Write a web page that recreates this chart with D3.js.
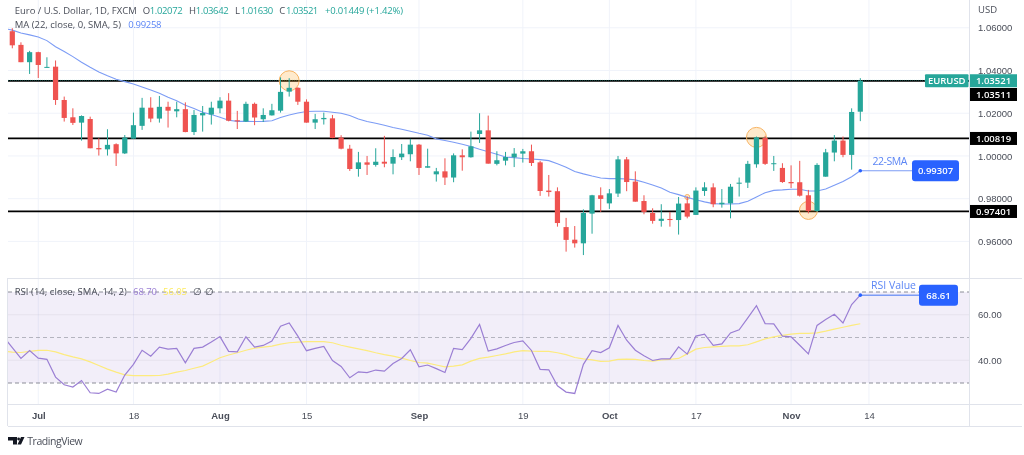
<!DOCTYPE html>
<html>
<head>
<meta charset="utf-8">
<script src="https://cdn.jsdelivr.net/npm/d3@7"></script>
<style>
  html, body { margin: 0; padding: 0; background: #fff; overflow: hidden; }
  svg { display: block; font-family: "Open Sans", "Liberation Sans", sans-serif; filter: blur(0.3px); }
  .axis path, .axis line { display: none; }
  .axis text { fill: #4a4e59; font-size: 9.5px; }
</style>
</head>
<body>
<div id="vis"></div>
<script>
// Daily EUR/USD candles (28 Jun to 11 Nov)
const opens = [1.0584,1.0520,1.0439,1.0486,1.0414,1.0418,1.0262,1.0181,1.0156,1.0173,
  1.0037,1.0031,1.0055,1.0012,1.0081,1.0141,1.0226,1.0175,1.0230,1.0209,
  1.0219,1.0112,1.0190,1.0194,1.0223,1.0259,1.0167,1.0161,1.0244,1.0172,
  1.0190,1.0212,1.0301,1.0319,1.0254,1.0156,1.0172,1.0176,1.0086,1.0034,
  0.9939,0.9970,0.9958,0.9973,0.9964,0.9994,1.0008,1.0053,0.9945,0.9914,
  0.9928,0.9899,1.0003,0.9994,1.0103,1.0120,0.9963,0.9978,0.9994,1.0011,
  1.0022,0.9970,0.9838,0.9835,0.9667,0.9608,0.9591,0.9730,0.9816,0.9778,
  0.9824,0.9984,0.9880,0.9789,0.9733,0.9696,0.9705,0.9700,0.9778,0.9724,
  0.9836,0.9853,0.9774,0.9778,0.9870,0.9875,0.9961,1.0084,0.9963,0.9944,
  0.9878,0.9877,0.9816,0.9742,0.9903,1.0016,1.0072,1.0005,1.02072];
const highs = [1.0598,1.0532,1.0492,1.0488,1.0462,1.0447,1.0278,1.0223,1.0190,1.0184,
  1.0083,1.0125,1.0059,1.0098,1.0203,1.0272,1.0275,1.0281,1.0254,1.0254,
  1.0251,1.0215,1.0234,1.0254,1.0275,1.0294,1.0211,1.0254,1.0250,1.0223,
  1.0244,1.0368,1.0364,1.0322,1.0265,1.0197,1.0203,1.0192,1.0097,1.0052,
  1.0019,1.0000,1.0036,1.0094,1.0031,1.0056,1.0080,1.0056,1.0034,0.9944,
  0.9989,1.0012,1.0031,1.0114,1.0200,1.0189,1.0022,1.0019,1.0037,1.0033,
  1.0053,0.9977,0.9911,0.9853,0.9710,0.9672,0.9750,0.9818,0.9853,0.9845,
  1.0000,0.9995,0.9928,0.9816,0.9755,0.9774,0.9738,0.9808,0.9810,0.9853,
  0.9877,0.9872,0.9845,0.9869,0.9899,0.9977,1.0091,1.0094,1.0000,0.9966,
  0.9956,0.9977,0.9841,0.9966,1.0033,1.0098,1.0091,1.0223,1.03642];
const lows = [1.0504,1.0439,1.0384,1.0365,1.0414,1.0239,1.0161,1.0145,1.0072,1.0036,
  1.0002,1.0002,0.9953,1.0009,1.0081,1.0122,1.0158,1.0156,1.0133,1.0181,
  1.0111,1.0098,1.0114,1.0147,1.0200,1.0162,1.0126,1.0159,1.0144,1.0159,
  1.0189,1.0203,1.0278,1.0239,1.0156,1.0126,1.0147,1.0083,1.0031,0.9930,
  0.9903,0.9911,0.9950,0.9947,0.9914,0.9981,0.9975,0.9911,0.9945,0.9880,
  0.9864,0.9877,0.9931,0.9992,1.0061,0.9964,0.9956,0.9956,0.9948,0.9969,
  0.9953,0.9813,0.9810,0.9669,0.9552,0.9571,0.9536,0.9636,0.9738,0.9752,
  0.9808,0.9835,0.9786,0.9727,0.9683,0.9669,0.9669,0.9632,0.9708,0.9724,
  0.9813,0.9760,0.9758,0.9708,0.9810,0.9850,0.9945,0.9958,0.9930,0.9874,
  0.9850,0.9810,0.9731,0.9739,0.9903,0.9975,0.9994,0.9936,1.01630];
const closes = [1.0518,1.0439,1.0486,1.0426,1.0417,1.0262,1.0178,1.0155,1.0187,1.0036,
  1.0031,1.0052,1.0012,1.0086,1.0144,1.0226,1.0175,1.0230,1.0212,1.0219,
  1.0112,1.0192,1.0201,1.0226,1.0259,1.0165,1.0162,1.0244,1.0180,1.0192,
  1.0214,1.0300,1.0319,1.0254,1.0156,1.0172,1.0178,1.0084,1.0034,0.9939,
  0.9970,0.9959,0.9973,0.9964,0.9995,1.0011,1.0053,0.9944,0.9952,0.9928,
  0.9899,1.0003,0.9994,1.0045,1.0120,0.9964,0.9980,0.9995,1.0011,1.0022,
  0.9967,0.9836,0.9831,0.9686,0.9607,0.9591,0.9733,0.9816,0.9799,0.9825,
  0.9984,0.9878,0.9786,0.9738,0.9696,0.9706,0.9700,0.9777,0.9716,0.9838,
  0.9853,0.9774,0.9781,0.9856,0.9875,0.9963,1.0087,0.9963,0.9966,0.9878,
  0.9872,0.9814,0.9742,0.9958,1.0017,1.0072,1.0005,1.0206,1.03521];

// These three start one session earlier, that point sits left of the pane edge
const maValues = [1.0598,1.0589,1.0576,1.0567,1.0557,1.0540,1.0511,1.0489,1.0465,1.0439,1.0415,
  1.0393,1.0375,1.0359,1.0348,1.0337,1.0323,1.0309,1.0294,1.0275,1.0258,
  1.0237,1.0222,1.0205,1.0194,1.0181,1.0167,1.0162,1.0162,1.0161,1.0162,
  1.0165,1.0180,1.0192,1.0201,1.0208,1.0209,1.0209,1.0205,1.0200,1.0189,
  1.0173,1.0161,1.0153,1.0144,1.0133,1.0125,1.0116,1.0106,1.0097,1.0080,
  1.0072,1.0064,1.0055,1.0044,1.0031,1.0020,1.0008,0.9995,0.9992,0.9988,
  0.9986,0.9983,0.9978,0.9964,0.9947,0.9927,0.9916,0.9906,0.9897,0.9894,
  0.9894,0.9892,0.9888,0.9877,0.9864,0.9850,0.9830,0.9819,0.9806,0.9795,
  0.9785,0.9777,0.9775,0.9775,0.9777,0.9788,0.9808,0.9828,0.9839,0.9841,
  0.9844,0.9844,0.9836,0.9836,0.9845,0.9863,0.9880,0.9903,0.99307];
const rsiValues = [50.3,45.5,40.8,44.3,40.9,40.4,32.6,29.2,28.2,31.1,25.7,
  25.4,27.3,26.0,33.5,38.2,44.4,41.8,45.8,44.9,45.2,
  38.9,45.2,45.8,48.0,50.4,43.9,43.7,50.3,45.8,46.5,
  48.4,55.0,56.4,50.6,44.2,45.2,46.1,39.9,37.3,32.3,
  34.9,34.6,35.7,35.2,38.6,40.8,44.6,37.1,37.9,36.3,
  34.6,45.2,44.7,49.6,55.7,44.0,45.0,46.5,47.8,48.5,
  44.3,36.0,35.8,28.8,26.0,25.4,38.2,44.2,43.4,45.5,
  55.3,48.8,44.4,42.0,39.9,40.6,40.6,45.9,42.7,50.6,
  51.5,46.5,47.2,52.0,53.4,58.6,64.0,56.1,56.0,50.6,
  50.3,46.6,42.8,55.3,57.9,60.2,56.4,64.5,68.61];
const rsiMaValues = [43.9,43.6,43.4,43.9,44.3,44.4,43.7,42.5,41.5,40.6,39.3,
  37.7,36.1,34.8,33.6,33.2,33.2,33.2,33.3,33.9,34.8,
  35.5,36.5,37.4,39.2,41.1,42.3,43.3,44.4,45.3,45.8,
  46.2,47.1,47.7,48.0,48.2,48.2,48.2,47.7,46.6,45.8,
  45.0,44.2,43.3,42.5,41.8,40.9,39.9,39.0,38.7,37.9,
  37.1,37.4,38.0,39.6,40.8,41.4,42.1,42.8,43.7,44.2,
  44.0,43.9,43.9,43.3,42.5,41.2,40.6,40.2,39.5,39.6,
  40.4,40.5,40.4,39.9,39.6,40.1,40.4,40.8,42.8,44.9,
  45.6,45.9,46.1,46.3,46.3,46.8,48.1,49.4,50.3,50.9,
  51.5,51.8,51.8,52.0,52.8,53.7,54.5,55.3,56.05];

const priceTicks = [1.06, 1.04, 1.02, 1.0, 0.98, 0.96];
const rsiTicks = [60, 40];
const rsiBands = [70, 50, 30];
const dateTickIndex = [3, 14, 24, 34, 47, 59, 69, 79, 90, 99];
const dateTickLabels = ['Jul', '18', 'Aug', '15', 'Sep', '19', 'Oct', '17', 'Nov', '14'];
const monthLabels = ['Jul', 'Aug', 'Sep', 'Oct', 'Nov'];
const supportLevels = [1.03511, 1.00819, 0.97401];
const touchPoints = [
  { day: 32, price: 1.0352, r: 10 },
  { day: 86, price: 1.0087, r: 10 },
  { day: 92, price: 0.9745, r: 9 },
  { day: 78, price: 0.9808, r: 2.5 },
];

const GREEN = '#26a69a', RED = '#ef5350', BLUE = '#2962ff', LINE_BLUE = '#7c9cf5';
const GRID = '#f0f3fa', BORDER = '#e0e3eb', TEXT = '#4a4e59', LABEL_BLUE = '#5c86f5';
const PURPLE = '#9b7fd4', YELLOW = '#fdeb5e';
const paneLeft = 8, paneRight = 969;

const svg = d3.select('#vis').append('svg').attr('width', 1024).attr('height', 455);

const x = d3.scaleLinear().domain([0, 98]).range([12.3, 860.3]);
const y = d3.scaleLinear().domain([0.96, 1.06]).range([241.4, 27.8]);
const yRsi = d3.scaleLinear().domain([30, 70]).range([383, 292]);

svg.append('defs').append('clipPath').attr('id', 'pane')
  .append('rect').attr('x', paneLeft).attr('y', 0).attr('width', paneRight - paneLeft).attr('height', 426);

// grid
const grid = svg.append('g').attr('stroke', GRID);
grid.selectAll('.v').data(dateTickIndex).join('line')
  .attr('x1', d => x(d)).attr('x2', d => x(d)).attr('y1', 0).attr('y2', 404);
grid.selectAll('.h').data(priceTicks).join('line')
  .attr('x1', paneLeft).attr('x2', paneRight).attr('y1', d => y(d)).attr('y2', d => y(d));

// pane borders
const borders = svg.append('g').attr('stroke', BORDER);
[278.5, 404.5, 426.5].forEach(v => borders.append('line')
  .attr('x1', paneLeft).attr('x2', 1022).attr('y1', v).attr('y2', v));
[paneLeft - 0.5, paneRight + 0.5].forEach(v => borders.append('line')
  .attr('x1', v).attr('x2', v).attr('y1', 278).attr('y2', 426));
borders.append('line').attr('x1', paneRight + 0.5).attr('x2', paneRight + 0.5).attr('y1', 0).attr('y2', 278);

// support / resistance levels
svg.append('g').selectAll('line').data(supportLevels).join('line')
  .attr('x1', paneLeft).attr('x2', paneRight)
  .attr('y1', d => y(d)).attr('y2', d => y(d))
  .attr('stroke', '#000').attr('stroke-width', 1.8);

// last price dotted line
svg.append('line').attr('x1', paneLeft).attr('x2', paneRight)
  .attr('y1', y(closes[98]) - 0.4).attr('y2', y(closes[98]) - 0.4)
  .attr('stroke', GREEN).attr('stroke-width', 0.8).attr('stroke-opacity', 0.6).attr('stroke-dasharray', '1 1');

// highlighted touches
svg.append('g').selectAll('circle').data(touchPoints).join('circle')
  .attr('cx', d => x(d.day)).attr('cy', d => y(d.price)).attr('r', d => d.r)
  .attr('fill', 'rgba(255,152,0,0.2)').attr('stroke', '#f7b260').attr('stroke-width', 1);

// MA line, drawn from one session before the first candle
const mainPane = svg.append('g').attr('clip-path', 'url(#pane)');
mainPane.append('path').datum(maValues)
  .attr('fill', 'none').attr('stroke', LINE_BLUE).attr('stroke-width', 1.1)
  .attr('d', d3.line().x((d, i) => x(i - 1)).y(d => y(d)));

// candles
const candles = mainPane.selectAll('.candle').data(d3.range(opens.length)).join('g')
  .attr('fill', i => closes[i] >= opens[i] ? GREEN : RED)
  .attr('stroke', i => closes[i] >= opens[i] ? GREEN : RED);
candles.append('line')
  .attr('x1', i => x(i)).attr('x2', i => x(i))
  .attr('y1', i => y(highs[i])).attr('y2', i => y(lows[i]))
  .attr('stroke-width', 1);
candles.append('rect')
  .attr('x', i => x(i) - 2.6).attr('width', 5.2)
  .attr('y', i => y(Math.max(opens[i], closes[i])))
  .attr('height', i => Math.max(1, Math.abs(y(opens[i]) - y(closes[i]))))
  .attr('stroke', 'none');

// RSI pane
svg.append('rect').attr('x', paneLeft).attr('width', paneRight - paneLeft)
  .attr('y', yRsi(70)).attr('height', yRsi(30) - yRsi(70))
  .attr('fill', 'rgba(126,87,194,0.1)');
svg.append('g').selectAll('line').data(rsiTicks).join('line')
  .attr('x1', paneLeft).attr('x2', paneRight)
  .attr('y1', d => yRsi(d)).attr('y2', d => yRsi(d))
  .attr('stroke', 'rgba(120,123,134,0.1)');
svg.append('g').selectAll('line').data(rsiBands).join('line')
  .attr('x1', paneLeft).attr('x2', paneRight)
  .attr('y1', d => yRsi(d)).attr('y2', d => yRsi(d))
  .attr('stroke', '#787b86').attr('stroke-opacity', d => d === 50 ? 0.5 : 0.85)
  .attr('stroke-dasharray', '4 3');

const rsiLine = d3.line().x((d, i) => x(i - 1)).y(d => yRsi(d));
const rsiPane = svg.append('g').attr('clip-path', 'url(#pane)');
rsiPane.append('path').datum(rsiMaValues)
  .attr('fill', 'none').attr('stroke', '#fdeb7e').attr('stroke-width', 1.2).attr('d', rsiLine);
rsiPane.append('path').datum(rsiValues)
  .attr('fill', 'none').attr('stroke', PURPLE).attr('stroke-width', 1.2).attr('d', rsiLine);

// axes
svg.append('g').attr('class', 'axis').attr('transform', `translate(${paneRight + 9},0)`)
  .call(d3.axisRight(y).tickValues(priceTicks).tickSize(0).tickPadding(0).tickFormat(d3.format('.5f')));
svg.append('g').attr('class', 'axis').attr('transform', `translate(${paneRight + 9},0)`)
  .call(d3.axisRight(yRsi).tickValues(rsiTicks).tickSize(0).tickPadding(0).tickFormat(d3.format('.2f')));
const dateAxis = svg.append('g').attr('class', 'axis').attr('transform', 'translate(0,404)')
  .call(d3.axisBottom(x).tickValues(dateTickIndex).tickSize(0).tickPadding(8)
    .tickFormat((d, i) => dateTickLabels[i]));
dateAxis.selectAll('text').filter((d, i) => monthLabels.includes(dateTickLabels[i]))
  .style('font-weight', 600);

svg.append('text').attr('x', paneRight + 9).attr('y', 12.5)
  .attr('fill', TEXT).attr('font-size', 9.5).text('USD');

// boxed labels on the price axis
const boxLabel = (text, left, width, centre, height, fill, radius) => {
  svg.append('rect').attr('x', left).attr('y', centre - height / 2)
    .attr('width', width).attr('height', height).attr('rx', radius || 0).attr('fill', fill);
  svg.append('text').attr('x', left + width / 2).attr('y', centre).attr('dy', '0.36em')
    .attr('text-anchor', 'middle').attr('fill', '#fff').attr('font-size', 9.5)
    .attr('font-weight', 600).text(text);
};
boxLabel('EURUSD', 925, 43.5, y(closes[98]), 13, GREEN, 1);
boxLabel(closes[98].toFixed(5), 970, 47, y(closes[98]), 13, GREEN);
boxLabel(supportLevels[0].toFixed(5), 970, 47, 94.5, 13, '#000');
boxLabel(supportLevels[1].toFixed(5), 970, 47, y(supportLevels[1]), 13, '#000');
boxLabel(supportLevels[2].toFixed(5), 970, 47, y(supportLevels[2]), 13, '#000');

// callouts for the last SMA and RSI values
const lastX = x(98);
svg.append('line').attr('x1', lastX).attr('x2', 912)
  .attr('y1', y(maValues[99])).attr('y2', y(maValues[99]))
  .attr('stroke', LINE_BLUE).attr('stroke-width', 1);
svg.append('circle').attr('cx', lastX).attr('cy', y(maValues[99])).attr('r', 1.8).attr('fill', BLUE);
svg.append('text').attr('x', 872.5).attr('y', 165).attr('fill', LABEL_BLUE).attr('font-size', 10.5)
  .attr('textLength', 35).text('22-SMA');
boxLabel(maValues[99].toFixed(5), 912, 47, y(maValues[99]), 21, BLUE, 3);

svg.append('line').attr('x1', lastX).attr('x2', 920)
  .attr('y1', yRsi(rsiValues[99])).attr('y2', yRsi(rsiValues[99]))
  .attr('stroke', LINE_BLUE).attr('stroke-width', 1.5);
svg.append('circle').attr('cx', lastX).attr('cy', yRsi(rsiValues[99])).attr('r', 1.8).attr('fill', BLUE);
svg.append('text').attr('x', 871).attr('y', 289).attr('fill', LABEL_BLUE).attr('font-size', 10.5)
  .attr('textLength', 45).text('RSI Value');
boxLabel(rsiValues[99].toFixed(2), 919, 39, yRsi(rsiValues[99]), 21, BLUE, 3);

// legends, each run pinned to where it starts and how wide it is
const legend = (baseline, runs) => {
  svg.append('g').selectAll('text').data(runs).join('text')
    .attr('x', d => d[2]).attr('y', baseline).attr('font-size', 9.5)
    .attr('fill', d => d[1]).attr('textLength', d => d[3]).text(d => d[0]);
};
legend(14, [
  ['Euro / U.S. Dollar, 1D, FXCM', TEXT, 14.7, 122],
  ['O', TEXT, 142.7, 7], ['1.02072', GREEN, 149.7, 33],
  ['H', TEXT, 189, 7], ['1.03642', GREEN, 195.7, 33],
  ['L', TEXT, 235, 5.5], ['1.01630', GREEN, 240.7, 32.6],
  ['C', TEXT, 279.3, 6.5], ['1.03521', GREEN, 286, 32.3],
  ['+0.01449 (+1.42%)', GREEN, 325, 78],
]);
legend(27.5, [
  ['MA (22, close, 0, SMA, 5)', TEXT, 14.7, 106.3],
  ['0.99258', LABEL_BLUE, 128.3, 33.2],
]);
legend(294.5, [
  ['RSI (14, close, SMA, 14, 2)', TEXT, 14.7, 112],
  ['68.70', PURPLE, 133, 24], ['56.05', YELLOW, 163, 24],
  ['∅', TEXT, 193, 6], ['∅', TEXT, 205, 6],
]);

// TradingView mark
svg.append('path').attr('fill', '#131722')
  .attr('d', 'M8 437h9v7.5h-4v-4h-5z M21 437h3.5l-3.5 7.5h-3.5z');
svg.append('circle').attr('cx', 18.6).attr('cy', 439).attr('r', 1.4).attr('fill', '#131722');
svg.append('text').attr('x', 27.3).attr('y', 445).attr('fill', TEXT).attr('font-size', 10.5)
  .attr('textLength', 55.4).text('TradingView');
</script>
</body>
</html>
